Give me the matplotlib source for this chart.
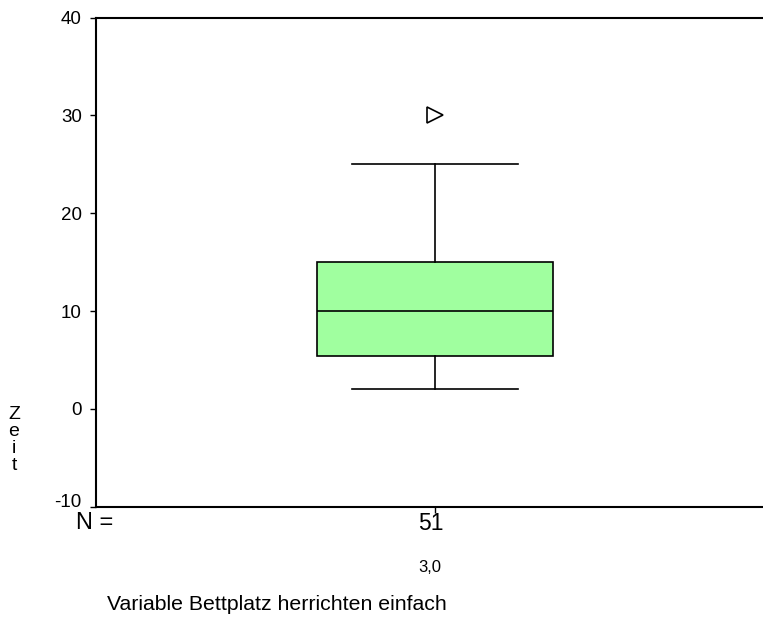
import matplotlib.pyplot as plt
import matplotlib.transforms as mtransforms

plt.rcParams['font.family'] = ['Liberation Sans', 'DejaVu Sans']

# boxplot summary for the single group
group = '3,0'
n_cases = 51
median = 10
q1 = 5.4
q3 = 15
whisker_low = 2
whisker_high = 25
outliers = [30]
y_ticks = [-10, 0, 10, 20, 30, 40]

fig = plt.figure(figsize=(7.63, 6.2), dpi=100)
ax = fig.add_axes([0.1254, 0.1827, 0.8746, 0.7888])

stats = [dict(med=median, q1=q1, q3=q3, whislo=whisker_low,
              whishi=whisker_high, fliers=outliers, label=group)]
line = dict(color='black', linewidth=1.2)
ax.bxp(stats, positions=[1], widths=0.695, capwidths=0.49,
       patch_artist=True,
       boxprops=dict(facecolor='#a0ff9f', edgecolor='black', linewidth=1.2),
       medianprops=line, whiskerprops=line, capprops=line,
       flierprops=dict(marker='>', markerfacecolor='white',
                       markeredgecolor='black', markersize=11.5,
                       markeredgewidth=1.2))

ax.set_xlim(0, 1.965)
ax.set_ylim(-10, 40)
ax.set_yticks(y_ticks)
ax.set_yticklabels([str(t) for t in y_ticks])
ax.set_xticks([1])
ax.set_xticklabels([''])
ax.tick_params(axis='both', direction='out', length=4, width=1,
               labelsize=13.5, pad=6)
ax.spines['right'].set_visible(False)
for s in ['left', 'top', 'bottom']:
    ax.spines[s].set_linewidth(1.5)

# lowest label sits a bit higher, clear of the N row
lowest = ax.get_yticklabels()[0]
lowest.set_transform(lowest.get_transform() +
                     mtransforms.ScaledTranslation(0, 6 / 100,
                                                   fig.dpi_scale_trans))

fig.text(76 / 763, 1 - 523 / 620, 'N =', fontsize=17, va='center')
fig.text(431 / 763, 1 - 523 / 620, str(n_cases), fontsize=16.5,
         va='center', ha='center')
fig.text(430 / 763, 1 - 567 / 620, group, fontsize=12,
         va='center', ha='center')
fig.text(107 / 763, 1 - 605 / 620, 'Variable Bettplatz herrichten einfach',
         fontsize=15.3, va='center')
fig.text(14 / 763, 1 - 440 / 620, '\n'.join('Zeit'), fontsize=14,
         va='center', ha='center', linespacing=0.98)

fig.savefig('out.png', dpi=100)
